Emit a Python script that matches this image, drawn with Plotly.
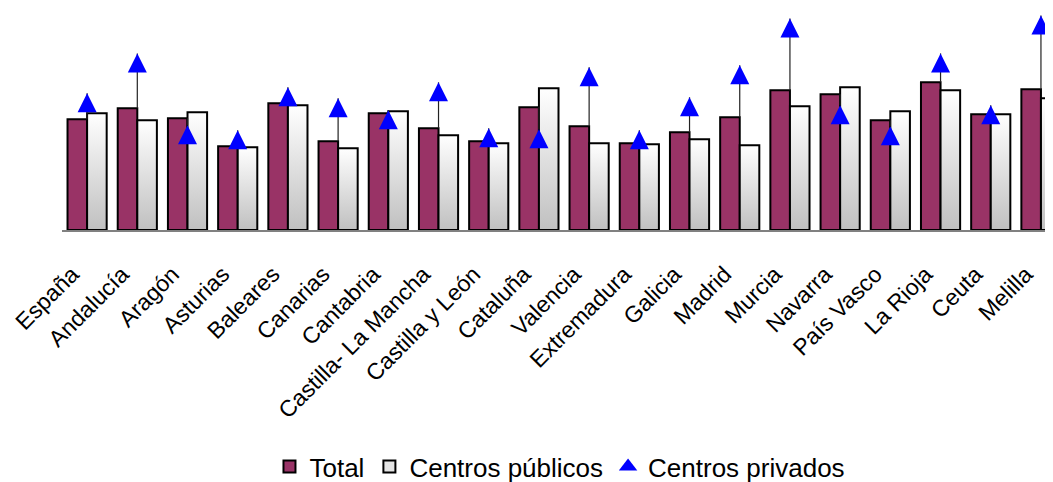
import plotly.graph_objects as go

regiones = ["España", "Andalucía", "Aragón", "Asturias", "Baleares", "Canarias",
            "Cantabria", "Castilla- La Mancha", "Castilla y León", "Cataluña",
            "Valencia", "Extremadura", "Galicia", "Madrid", "Murcia", "Navarra",
            "País Vasco", "La Rioja", "Ceuta", "Melilla"]

total = [11.1, 12.2, 11.2, 8.4, 12.7, 8.9, 11.7, 10.2, 8.9, 12.3,
         10.4, 8.7, 9.8, 11.3, 14.0, 13.6, 11.0, 14.8, 11.6, 14.1]
publicos = [11.7, 11.0, 11.8, 8.3, 12.5, 8.2, 11.9, 9.5, 8.7, 14.2,
            8.7, 8.6, 9.1, 8.5, 12.4, 14.3, 11.9, 14.0, 11.6, 13.2]
privados = [13.7, 17.7, 10.5, 10.0, 14.3, 13.2, 12.0, 14.8, 10.2, 10.1,
            16.3, 10.0, 13.3, 16.5, 21.2, 12.5, 10.4, 17.7, 12.5, 21.5]

FONT = "Liberation Sans, Arial, sans-serif"
W = 0.39  # bar width in category units
pos = list(range(len(regiones)))

fig = go.Figure()

# Total bars (left of each category centre)
fig.add_trace(go.Bar(x=pos, y=total, width=W, offset=-W, name="Total",
                     marker=dict(color="#993366", line=dict(color="black", width=2))))

# legend-only entry for the public bars
fig.add_trace(go.Bar(x=[None], y=[None], name="Centros públicos",
                     marker=dict(color="#e4e4e4", line=dict(color="black", width=2))))

# Centros publicos: bars drawn as filled shapes so each gets its own gradient
for i, v in enumerate(publicos):
    fig.add_trace(go.Scatter(
        x=[i, i, i + W, i + W, i], y=[0, v, v, 0, 0],
        mode="lines", fill="toself",
        fillgradient=dict(type="vertical", colorscale=[[0, "#c0c0c0"], [1, "#ffffff"]]),
        line=dict(color="black", width=2),
        showlegend=False, hoverinfo="skip"))

# connector lines total -> privados
lx, ly = [], []
for i in pos:
    lx += [i, i, None]
    ly += [total[i], privados[i], None]
fig.add_trace(go.Scatter(x=lx, y=ly, mode="lines", line=dict(color="#222222", width=1.2),
                         showlegend=False, hoverinfo="skip"))

fig.add_trace(go.Scatter(x=pos, y=privados, mode="markers", showlegend=False,
                         marker=dict(symbol="arrow-up", size=19, color="#0000ff",
                                     line=dict(width=0)),
                         cliponaxis=False))
# legend-only entry for the triangles
fig.add_trace(go.Scatter(x=[None], y=[None], mode="markers", name="Centros privados",
                         marker=dict(symbol="triangle-up", size=16, color="#0000ff",
                                     line=dict(width=0))))

fig.update_layout(
    width=1045, height=482,
    margin=dict(l=54, r=0, t=0, b=259.5),
    paper_bgcolor="white", plot_bgcolor="white",
    font=dict(family=FONT, size=23, color="black"),
    showlegend=True,
    legend=dict(orientation="h", x=0.5025, xanchor="center", y=-1.067, yanchor="middle",
                font=dict(size=26), itemwidth=30, traceorder="normal"),
    xaxis=dict(range=[-0.5, 19.24], tickmode="array", tickvals=pos, ticktext=regiones,
               tickangle=-45, showgrid=False, zeroline=False, showline=True,
               linecolor="#808080", linewidth=1.5, ticks="", automargin=False,
               ticklabelshift=-15, ticklabelstandoff=20, fixedrange=True),
    yaxis=dict(range=[0, 22.25], visible=False, showgrid=False, zeroline=False,
               automargin=False, fixedrange=True),
)

fig.write_html("out.html")
